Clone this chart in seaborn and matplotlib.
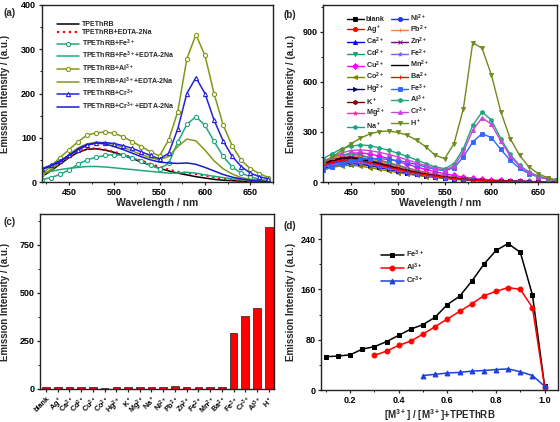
import numpy as np
import matplotlib
matplotlib.use("Agg")
import matplotlib.pyplot as plt
from matplotlib.ticker import AutoMinorLocator
import seaborn as sns

# ── (a) spectra, 10 nm grid ───────────────────────────────
WL_A = [420, 430, 440, 450, 460, 470, 480, 490, 500, 510, 520, 530, 540,
        550, 560, 570, 580, 590, 600, 610, 620, 630, 640, 650, 660, 670]
A_TPE = [12, 25, 40, 55, 67, 74, 75, 72, 67, 60, 53, 45, 38,
         31, 25, 20, 16, 12, 9, 6, 4, 3, 2, 1, 1, 0]
A_EDTA = [13, 26, 42, 57, 69, 75, 76, 73, 68, 62, 55, 48, 41,
          34, 28, 23, 20, 18, 15, 11, 7, 5, 3, 2, 1, 0]
A_FE = [5, 10, 17, 27, 40, 50, 56, 60, 62, 60, 55, 47, 38,
        30, 42, 90, 130, 148, 128, 92, 58, 34, 20, 12, 6, 3]
A_FE_EDTA = [20, 24, 28, 31, 33, 35, 35, 34, 32, 30, 28, 26, 24,
             22, 20, 20, 22, 20, 16, 13, 10, 7, 5, 3, 2, 1]
A_AL = [19, 35, 55, 73, 91, 106, 111, 113, 110, 102, 91, 80, 68,
        59, 95, 159, 278, 333, 286, 200, 129, 82, 49, 30, 19, 10]
A_AL_EDTA = [15, 28, 45, 62, 77, 86, 90, 89, 85, 78, 70, 62, 55,
             50, 58, 80, 97, 93, 72, 48, 30, 18, 10, 6, 4, 2]
A_CR = [30, 38, 48, 60, 72, 83, 88, 89, 87, 82, 76, 68, 60,
        52, 65, 120, 200, 236, 200, 140, 93, 58, 35, 20, 12, 7]
A_CR_EDTA = [28, 36, 45, 60, 75, 85, 88, 86, 80, 73, 65, 57, 50,
             45, 43, 42, 43, 40, 33, 25, 17, 11, 7, 4, 2, 1]

# ── (b) spectra of TPEThRB with each ion ──────────────────
WL_B = WL_A
B_SERIES = {
    "blank": [105, 123, 137, 140, 133, 120, 106, 92, 78, 66, 55, 45, 36, 29, 22, 17, 13, 10, 7, 6, 4, 3, 2, 1, 1, 0],
    "Ag+": [110, 130, 147, 150, 142, 129, 114, 99, 84, 70, 58, 48, 39, 31, 24, 18, 13, 10, 8, 6, 4, 3, 2, 2, 1, 0],
    "Ca2+": [80, 95, 106, 110, 106, 97, 87, 76, 65, 54, 45, 37, 30, 24, 18, 14, 10, 8, 6, 4, 3, 2, 2, 1, 1, 0],
    "Cd2+": [95, 113, 126, 130, 124, 112, 99, 86, 73, 61, 51, 42, 34, 27, 21, 16, 12, 9, 7, 5, 4, 3, 2, 1, 1, 0],
    "Cu2+": [115, 140, 160, 172, 175, 168, 155, 140, 123, 106, 90, 75, 62, 50, 39, 30, 22, 16, 12, 9, 6, 4, 3, 2, 1, 0],
    "Co2+": [75, 88, 97, 100, 95, 86, 76, 66, 56, 47, 39, 32, 26, 21, 16, 12, 9, 7, 5, 4, 3, 2, 1, 1, 0, 0],
    "Hg2+": [90, 106, 117, 120, 114, 103, 91, 79, 67, 56, 47, 38, 31, 25, 19, 14, 11, 8, 6, 5, 4, 2, 2, 1, 1, 0],
    "K+": [108, 128, 142, 145, 138, 125, 110, 96, 81, 68, 57, 46, 38, 30, 23, 17, 13, 10, 7, 6, 4, 3, 2, 1, 1, 0],
    "Mg2+": [120, 145, 160, 165, 160, 148, 133, 117, 100, 85, 71, 58, 47, 38, 29, 22, 16, 12, 9, 7, 5, 3, 2, 2, 1, 0],
    "Na+": [125, 148, 162, 165, 158, 145, 129, 112, 96, 81, 67, 55, 45, 36, 28, 21, 15, 11, 8, 6, 4, 3, 2, 1, 1, 0],
    "Ni2+": [92, 110, 122, 125, 119, 108, 95, 82, 70, 58, 49, 40, 32, 26, 20, 15, 11, 8, 6, 5, 4, 3, 2, 1, 1, 0],
    "Pb2+": [120, 142, 157, 160, 152, 138, 122, 106, 90, 75, 62, 51, 42, 34, 26, 19, 15, 11, 8, 6, 5, 3, 2, 2, 1, 0],
    "Zn2+": [112, 132, 146, 150, 143, 129, 114, 99, 84, 71, 59, 48, 39, 32, 24, 18, 14, 10, 8, 6, 4, 3, 2, 1, 1, 0],
    "Fe2+": [88, 104, 116, 120, 115, 105, 93, 81, 69, 58, 48, 39, 32, 26, 20, 15, 11, 8, 6, 5, 4, 3, 2, 1, 1, 0],
    "Mn2+": [110, 128, 141, 145, 137, 124, 109, 95, 80, 67, 56, 46, 37, 30, 23, 17, 13, 10, 7, 6, 4, 3, 2, 1, 1, 0],
    "Ba2+": [100, 118, 131, 135, 128, 116, 102, 89, 75, 63, 52, 43, 35, 28, 21, 16, 12, 9, 7, 5, 4, 3, 2, 1, 1, 0],
    "Fe3+": [70, 90, 110, 125, 135, 140, 140, 135, 128, 118, 105, 90, 75, 68, 85, 150, 240, 290, 265, 195, 130, 82, 50, 30, 17, 9],
    "Al3+": [140, 170, 200, 215, 222, 218, 205, 190, 172, 153, 132, 110, 90, 80, 110, 200, 340, 420, 370, 260, 165, 100, 60, 35, 20, 10],
    "Cr3+": [120, 150, 175, 188, 192, 188, 178, 165, 150, 133, 115, 97, 82, 72, 95, 180, 310, 385, 345, 245, 155, 95, 57, 33, 18, 9],
    "H+": [110, 150, 190, 230, 262, 288, 302, 305, 297, 280, 250, 210, 160, 140, 230, 440, 835, 800, 640, 420, 260, 160, 90, 50, 25, 12],
}
B_LABELS = ["blank", "Ag$^+$", "Ca$^{2+}$", "Cd$^{2+}$", "Cu$^{2+}$", "Co$^{2+}$",
            "Hg$^{2+}$", "K$^+$", "Mg$^{2+}$", "Na$^+$", "Ni$^{2+}$", "Pb$^{2+}$",
            "Zn$^{2+}$", "Fe$^{2+}$", "Mn$^{2+}$", "Ba$^{2+}$", "Fe$^{3+}$",
            "Al$^{3+}$", "Cr$^{3+}$", "H$^+$"]
B_COLORS = ["#000000", "#FF0000", "#0000FF", "#10A070", "#FF00FF", "#808000",
            "#000080", "#800000", "#FF3399", "#12A58A", "#2233EE", "#FF8030",
            "#800080", "#8060FF", "#000000", "#FF0000", "#3366FF", "#1FA57F",
            "#CC44DD", "#6E8B1E"]
B_MARKERS = ["s", "o", "^", "v", "D", "<", ">", "h", "*", "p", "o", "+",
             "x", "*", None, "|", "s", "h", "^", "v"]

# ── (c) intensity at 590 nm ───────────────────────────────
C_LABELS = ["blank", "Ag$^+$", "Ca$^{2+}$", "Cd$^{2+}$", "Cu$^{2+}$", "Co$^{2+}$",
            "Hg$^{2+}$", "K$^+$", "Mg$^{2+}$", "Na$^+$", "Ni$^{2+}$", "Pb$^{2+}$",
            "Zn$^{2+}$", "Fe$^{2+}$", "Mn$^{2+}$", "Ba$^{2+}$", "Fe$^{3+}$",
            "Cr$^{3+}$", "Al$^{3+}$", "H$^+$"]
C_VALUES = [8, 8, 8, 10, 8, 7, 12, 8, 9, 8, 8, 17, 10, 13, 10, 9, 290, 382, 420, 845]

# ── (d) Job's plot ────────────────────────────────────────
X_FE = [0.10, 0.15, 0.20, 0.25, 0.30, 0.35, 0.40, 0.45, 0.50, 0.55, 0.60,
        0.65, 0.70, 0.75, 0.80, 0.85, 0.90, 0.95, 1.00]
Y_FE = [53, 54, 56, 65, 69, 77, 87, 97, 104, 116, 136, 149, 173, 200, 222, 233, 219, 151, 6]
X_AL = [0.30, 0.35, 0.40, 0.45, 0.50, 0.55, 0.60, 0.65, 0.70, 0.75, 0.80,
        0.85, 0.90, 0.95, 1.00]
Y_AL = [55, 62, 71, 78, 89, 101, 113, 125, 137, 150, 157, 163, 160, 131, 5]
X_CR = [0.50, 0.55, 0.60, 0.65, 0.70, 0.75, 0.80, 0.85, 0.90, 0.95, 1.00]
Y_CR = [23, 25, 27, 28, 30, 31, 32.5, 33.6, 29, 23, 6]

sns.set_style("ticks")
plt.rcParams["font.family"] = ["Liberation Sans", "DejaVu Sans"]
plt.rcParams["font.weight"] = "bold"
plt.rcParams["axes.labelweight"] = "bold"
plt.rcParams["mathtext.fontset"] = "custom"
plt.rcParams["mathtext.rm"] = "Liberation Sans:bold"
plt.rcParams["mathtext.bf"] = "Liberation Sans:bold"
plt.rcParams["mathtext.default"] = "bf"

W, H = 560, 422
fig = plt.figure(figsize=(W / 100, H / 100), dpi=100)


def box(l, r, t, b):
    return [l / W, 1 - b / H, (r - l) / W, (b - t) / H]


def style(ax, lab_x_px, l_px):
    for s in ax.spines.values():
        s.set_linewidth(1.0)
        s.set_color("#222222")
    ax.tick_params(which="major", direction="out", length=2.5, width=0.9,
                   labelsize=6.5, pad=1.5, colors="#222222", labelcolor="black")
    ax.tick_params(which="minor", direction="out", length=1.5, width=0.7, colors="#222222")
    ax.set_ylabel("Emission Intensity / (a.u.)", fontsize=7, fontweight="bold")
    width = ax.get_position().width * W
    ax.yaxis.set_label_coords((lab_x_px - l_px) / width, 0.5)


# ── panel (a) ─────────────────────────────────────────────
axa = fig.add_axes(box(41.7, 273, 5, 182))
a_specs = [
    (A_TPE, "TPEThRB", "#000000", None, "-"),
    (A_EDTA, "TPEThRB+EDTA-2Na", "#FF0000", None, ":"),
    (A_FE, "TPEThRB+Fe$^{3+}$", "#21A77F", "o", "-"),
    (A_FE_EDTA, "TPEThRB+Fe$^{3+}$+EDTA-2Na", "#21A77F", None, "-"),
    (A_AL, "TPEThRB+Al$^{3+}$", "#7F9A16", "o", "-"),
    (A_AL_EDTA, "TPEThRB+Al$^{3+}$+EDTA-2Na", "#809A1E", None, "-"),
    (A_CR, "TPEThRB+Cr$^{3+}$", "#2222DD", "^", "-"),
    (A_CR_EDTA, "TPEThRB+Cr$^{3+}$+EDTA-2Na", "#1A1ACC", None, "-"),
]
for vals, lab, col, mk, ls in a_specs:
    kw = dict(marker=mk, markersize=3, markerfacecolor="white",
              markeredgecolor=col, markeredgewidth=0.8) if mk else {}
    sns.lineplot(x=WL_A, y=vals, ax=axa, color=col, linewidth=1.6 if ls == ":" else 1.1,
                 linestyle=ls, label=lab, **kw)
axa.set_xlim(420, 675)
axa.set_ylim(0, 400)
axa.set_xticks([450, 500, 550, 600, 650])
axa.set_yticks([0, 100, 200, 300, 400])
axa.xaxis.set_minor_locator(AutoMinorLocator(2))
axa.yaxis.set_minor_locator(AutoMinorLocator(2))
axa.set_xlabel("Wavelength / nm", fontsize=7.5, fontweight="bold", labelpad=1)
style(axa, 10, 41.7)
axa.legend(loc="upper left", bbox_to_anchor=(0.055, 0.925), frameon=False,
           fontsize=5, handlelength=3.2, handletextpad=0.4, labelspacing=0.18,
           borderaxespad=0)

# ── panel (b) ─────────────────────────────────────────────
axb = fig.add_axes(box(323, 557, 5, 182))
for (key, vals), lab, col, mk in zip(B_SERIES.items(), B_LABELS, B_COLORS, B_MARKERS):
    kw = dict(marker=mk, markersize=3, markeredgecolor=col, markerfacecolor=col,
              markeredgewidth=0.6) if mk else {}
    sns.lineplot(x=WL_B, y=vals, ax=axb, color=col, linewidth=1.0, label=lab, **kw)
axb.set_xlim(420, 670)
axb.set_ylim(0, 1060)
axb.set_xticks([450, 500, 550, 600, 650])
axb.set_yticks([0, 300, 600, 900])
axb.xaxis.set_minor_locator(AutoMinorLocator(2))
axb.yaxis.set_minor_locator(AutoMinorLocator(2))
axb.set_xlabel("Wavelength / nm", fontsize=7.5, fontweight="bold", labelpad=1)
style(axb, 296, 323)
axb.legend(loc="upper left", bbox_to_anchor=(0.09, 0.975), frameon=False, ncol=2,
           fontsize=5.2, handlelength=2.3, handletextpad=0.3, labelspacing=0.05,
           columnspacing=0.9, borderaxespad=0)

# ── panel (c) ─────────────────────────────────────────────
axc = fig.add_axes(box(40, 274, 214, 389))
sns.barplot(x=list(range(len(C_VALUES))), y=C_VALUES, ax=axc, color="#FF0000",
            saturation=1, edgecolor="#333333", linewidth=0.6, width=0.65, native_scale=True)
axc.set_xlim(-0.51, 19.45)
axc.set_ylim(0, 910)
axc.set_xticks(range(len(C_LABELS)))
axc.set_xticklabels(C_LABELS, rotation=45, ha="right", rotation_mode="anchor", fontsize=5.2)
axc.set_yticks([0, 250, 500, 750])
axc.yaxis.set_minor_locator(AutoMinorLocator(2))
axc.set_xlabel("")
style(axc, 10, 40)
axc.tick_params(axis="x", labelsize=5.2)

# ── panel (d) ─────────────────────────────────────────────
axd = fig.add_axes(box(321, 558, 214, 390))
for xs, ys, lab, col, mk in [(X_FE, Y_FE, "Fe$^{3+}$", "#000000", "s"),
                             (X_AL, Y_AL, "Al$^{3+}$", "#FF0000", "o"),
                             (X_CR, Y_CR, "Cr$^{3+}$", "#1E3FE0", "^")]:
    sns.lineplot(x=xs, y=ys, ax=axd, color=col, marker=mk, markersize=3.5,
                 markeredgecolor=col, linewidth=1.1, label=lab)
axd.set_xlim(0.08, 1.055)
axd.set_ylim(0, 280)
axd.set_xticks([0.2, 0.4, 0.6, 0.8, 1.0])
axd.set_yticks([0, 80, 160, 240])
axd.xaxis.set_minor_locator(AutoMinorLocator(2))
axd.yaxis.set_minor_locator(AutoMinorLocator(2))
axd.set_xlabel("[M$^{3+}$] / [M$^{3+}$]+TPEThRB", fontsize=7, fontweight="bold", labelpad=2)
style(axd, 296, 321)
axd.legend(loc="upper left", bbox_to_anchor=(0.24, 0.82), frameon=False,
           fontsize=5.5, handlelength=3.0, handletextpad=0.3, labelspacing=0.25,
           borderaxespad=0)

for x, y, t in [(3, 13, "(a)"), (284, 15, "(b)"), (3, 222, "(c)"), (284, 226, "(d)")]:
    fig.text(x / W, 1 - y / H, t, fontsize=7, fontweight="bold", va="center")

fig.savefig("out.png", dpi=100)
